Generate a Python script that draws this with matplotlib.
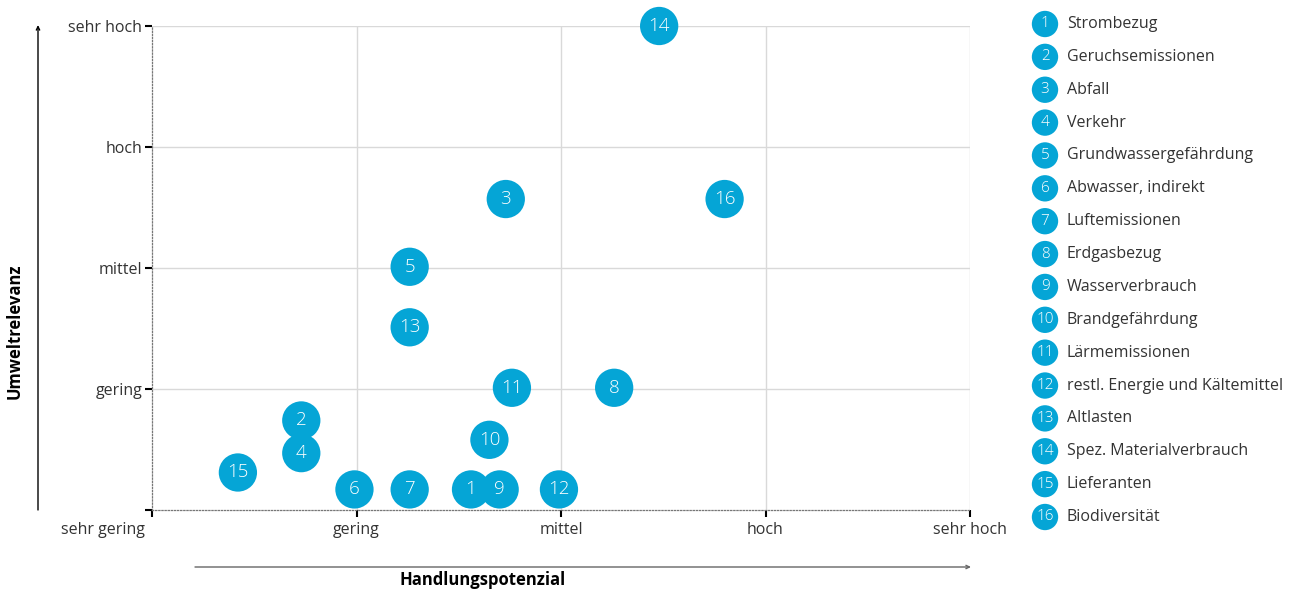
import matplotlib.pyplot as plt
import matplotlib.transforms as mtransforms
import numpy as np

plt.rcParams['font.family'] = ['Open Sans', 'DejaVu Sans']

# scale labels shared by both axes (0 = sehr gering ... 4 = sehr hoch)
levels = ['sehr gering', 'gering', 'mittel', 'hoch', 'sehr hoch']

ids = list(range(1, 17))
names = ['Strombezug', 'Geruchsemissionen', 'Abfall', 'Verkehr',
         'Grundwassergefährdung', 'Abwasser, indirekt', 'Luftemissionen',
         'Erdgasbezug', 'Wasserverbrauch', 'Brandgefährdung', 'Lärmemissionen',
         'restl. Energie und Kältemittel', 'Altlasten',
         'Spez. Materialverbrauch', 'Lieferanten', 'Biodiversität']
handlung = [1.56, 0.73, 1.73, 0.73, 1.26, 0.99, 1.26, 2.26,
            1.70, 1.65, 1.76, 1.99, 1.26, 2.48, 0.42, 2.80]
umwelt = [0.17, 0.74, 2.57, 0.47, 2.01, 0.17, 0.17, 1.01,
          0.17, 0.58, 1.01, 0.17, 1.51, 4.00, 0.31, 2.57]

blue = '#05a5d6'
text_col = '#333333'

fig = plt.figure(figsize=(13.09, 5.94), dpi=100)
ax = fig.add_axes([152 / 1309, 1 - 510 / 594, 818 / 1309, 484 / 594])
ax.set_xlim(0, 4)
ax.set_ylim(0, 4)

for v in range(1, 5):
    ax.axvline(v, color='#d9d9d9', lw=1, zorder=0)
    ax.axhline(v, color='#d9d9d9', lw=1, zorder=0)

for side in ['top', 'right']:
    ax.spines[side].set_visible(False)
for side in ['left', 'bottom']:
    ax.spines[side].set_linestyle((0, (1, 1.5)))
    ax.spines[side].set_color('#777777')
    ax.spines[side].set_linewidth(0.9)

ax.set_xticks(range(5))
ax.set_xticklabels(levels)
ax.set_yticks(range(5))
ax.set_yticklabels([''] + levels[1:])
ax.tick_params(direction='out', length=5, width=1.5, color='black',
               labelsize=11.5, labelcolor=text_col)
ax.tick_params(axis='x', pad=4)
ax.tick_params(axis='y', pad=2)
# the corner label sits left of the origin
first = ax.get_xticklabels()[0]
first.set_horizontalalignment('right')
first.set_transform(first.get_transform() +
                    mtransforms.ScaledTranslation(-7 / 100, 0, fig.dpi_scale_trans))

ax.scatter(handlung, umwelt, s=760, color=blue, edgecolors='none',
           clip_on=False, zorder=3)
for i, x, y in zip(ids, handlung, umwelt):
    ax.text(x, y, str(i), color='white', fontsize=13.5, ha='center',
            va='center', fontweight='light', zorder=4, clip_on=False)

# axis arrows and titles
arrow = dict(arrowstyle='->,head_length=0.25,head_width=0.12', lw=1,
             shrinkA=0, shrinkB=0)
fig.add_artist(plt.Annotation('', xy=(38 / 1309, 1 - 25 / 594),
                              xytext=(38 / 1309, 1 - 510 / 594),
                              xycoords='figure fraction',
                              arrowprops=dict(arrow, color='black')))
fig.text(15 / 1309, 1 - 331 / 594, 'Umweltrelevanz', rotation=90, ha='center',
         va='center', fontsize=12, fontweight='bold', color='black')
fig.add_artist(plt.Annotation('', xy=(971 / 1309, 1 - 567 / 594),
                              xytext=(195 / 1309, 1 - 567 / 594),
                              xycoords='figure fraction',
                              arrowprops=dict(arrow, color='#666666')))
fig.text(483 / 1309, 1 - 580 / 594, 'Handlungspotenzial', ha='center',
         va='center', fontsize=12, fontweight='bold', color='black')

# numbered legend on the right
leg = fig.add_axes([1030 / 1309, 1 - 530 / 594, 279 / 1309, 520 / 594])
leg.set_xlim(0, 279)
leg.set_ylim(530, 10)
leg.axis('off')
ys = np.linspace(24, 517, len(ids))
leg.scatter([15] * len(ids), ys, s=360, color=blue, edgecolors='none',
            clip_on=False)
for i, name, y in zip(ids, names, ys):
    leg.text(15, y, str(i), color='white', fontsize=11, ha='center',
             va='center', fontweight='light')
    leg.text(37, y, name, color=text_col, fontsize=11.5, ha='left', va='center')

fig.savefig('out.png', dpi=100)
